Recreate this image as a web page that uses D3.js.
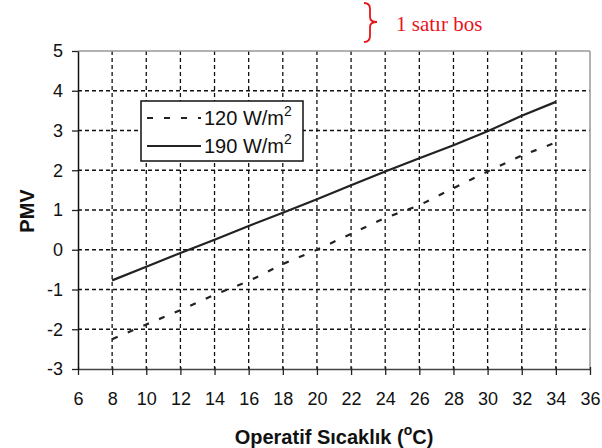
<!DOCTYPE html>
<html>
<head>
<meta charset="utf-8">
<script src="https://cdn.jsdelivr.net/npm/d3@7"></script>
<style>
  body { margin: 0; background: #fff; }
</style>
</head>
<body>
<svg width="602" height="448"></svg>
<script>
// data
const temps = [8, 10, 12, 14, 16, 18, 20, 22, 24, 26, 28, 30, 32, 34];
const pmv120 = [-2.25, -1.88, -1.52, -1.13, -0.79, -0.36, 0.0, 0.4, 0.8, 1.12, 1.55, 1.97, 2.37, 2.7];
const pmv190 = [-0.77, -0.43, -0.08, 0.25, 0.6, 0.93, 1.27, 1.62, 1.97, 2.3, 2.63, 2.98, 3.37, 3.72];
const xTicks = d3.range(6, 37, 2);
const yTicks = d3.range(-3, 6, 1);

const sans = '"Liberation Sans", Arial, sans-serif';
const serif = '"Liberation Serif", "Times New Roman", serif';

const svg = d3.select('svg');
const margin = { left: 78, right: 12, top: 51, bottom: 79 };
const width = +svg.attr('width'), height = +svg.attr('height');
const innerW = width - margin.left - margin.right;
const innerH = height - margin.top - margin.bottom;

const x = d3.scaleLinear().domain([6, 36]).range([0, innerW]);
const y = d3.scaleLinear().domain([-3, 5]).range([innerH, 0]);

const g = svg.append('g').attr('transform', `translate(${margin.left},${margin.top})`);

// grid
g.append('g').selectAll('line').data(xTicks.slice(1, -1)).join('line')
  .attr('x1', d => x(d)).attr('x2', d => x(d)).attr('y1', 0).attr('y2', innerH)
  .attr('stroke', '#111').attr('stroke-width', 1.3).attr('stroke-dasharray', '4,3');
g.append('g').selectAll('line').data(yTicks.slice(1, -1)).join('line')
  .attr('x1', 0).attr('x2', innerW).attr('y1', d => y(d)).attr('y2', d => y(d))
  .attr('stroke', '#111').attr('stroke-width', 1.3).attr('stroke-dasharray', '4,3');

// frame (top and right gray)
g.append('line').attr('x1', 0).attr('x2', innerW).attr('y1', 0).attr('y2', 0)
  .attr('stroke', '#999').attr('stroke-width', 1.5);
g.append('line').attr('x1', innerW).attr('x2', innerW).attr('y1', 0).attr('y2', innerH)
  .attr('stroke', '#999').attr('stroke-width', 1.5);

// axes (plain hyphen for negatives, like the original)
const fmt = d => String(d);
const ax = g.append('g').attr('transform', `translate(0,${innerH})`)
  .call(d3.axisBottom(x).tickValues(xTicks).tickFormat(fmt).tickSize(6).tickSizeOuter(0).tickPadding(17));
ax.select('.domain').attr('stroke', '#444').attr('stroke-width', 1.5);
ax.selectAll('.tick line').attr('y1', -2).attr('stroke', '#222').attr('stroke-width', 1.3);
ax.selectAll('.tick text').attr('font-size', 18).attr('fill', '#111').attr('font-family', sans);

const ay = g.append('g')
  .call(d3.axisLeft(y).tickValues(yTicks).tickFormat(fmt).tickSize(6).tickSizeOuter(0).tickPadding(9));
ay.select('.domain').attr('stroke', '#111').attr('stroke-width', 1.5);
ay.selectAll('.tick line').attr('stroke', '#222').attr('stroke-width', 1.3);
ay.selectAll('.tick text').attr('font-size', 18).attr('fill', '#111').attr('font-family', sans);

// series
const line = d3.line().x(d => x(d[0])).y(d => y(d[1]));
g.append('path').datum(temps.map((t, i) => [t, pmv120[i]]))
  .attr('d', line).attr('fill', 'none').attr('stroke', '#222')
  .attr('stroke-width', 2.2).attr('stroke-dasharray', '6,11');
g.append('path').datum(temps.map((t, i) => [t, pmv190[i]]))
  .attr('d', line).attr('fill', 'none').attr('stroke', '#222').attr('stroke-width', 2.2);

// legend
const lg = svg.append('g').attr('transform', 'translate(141,101)');
lg.append('rect').attr('width', 162).attr('height', 60)
  .attr('fill', '#fff').attr('stroke', '#111').attr('stroke-width', 1.5);
const items = [
  { label: '120 W/m', dash: '6,11', y: 17 },
  { label: '190 W/m', dash: null, y: 45 }
];
items.forEach(it => {
  lg.append('line').attr('x1', 6).attr('x2', 60).attr('y1', it.y).attr('y2', it.y)
    .attr('stroke', '#222').attr('stroke-width', 2.2)
    .attr('stroke-dasharray', it.dash);
  const t = lg.append('text').attr('x', 63).attr('y', it.y + 7)
    .attr('font-family', sans).attr('font-size', 20).attr('fill', '#111').text(it.label);
  t.append('tspan').attr('font-size', 14).attr('dy', -9).text('2');
});

// axis titles
svg.append('text').attr('transform', 'translate(34,211) rotate(-90)')
  .attr('text-anchor', 'middle').attr('font-family', sans).attr('font-size', 20)
  .attr('font-weight', 'bold').attr('fill', '#111').text('PMV');
const xt = svg.append('text').attr('x', 334).attr('y', 444)
  .attr('text-anchor', 'middle').attr('font-family', sans).attr('font-size', 20)
  .attr('font-weight', 'bold').attr('fill', '#111').text('Operatif Sıcaklık (');
xt.append('tspan').attr('font-size', 14).attr('dy', -9).text('o');
xt.append('tspan').attr('dy', 9).text('C)');

// red annotation: curly brace + note
svg.append('path')
  .attr('d', 'M364,3 Q370,3 370,9 L370,17 Q370,22 377,22 Q370,22 370,27 L370,36 Q370,42 364,42')
  .attr('fill', 'none').attr('stroke', '#e8141c').attr('stroke-width', 1.8);
svg.append('text').attr('x', 396).attr('y', 31)
  .attr('font-family', serif).attr('font-size', 21).attr('fill', '#e8141c').text('1 satır bos');
</script>
</body>
</html>
